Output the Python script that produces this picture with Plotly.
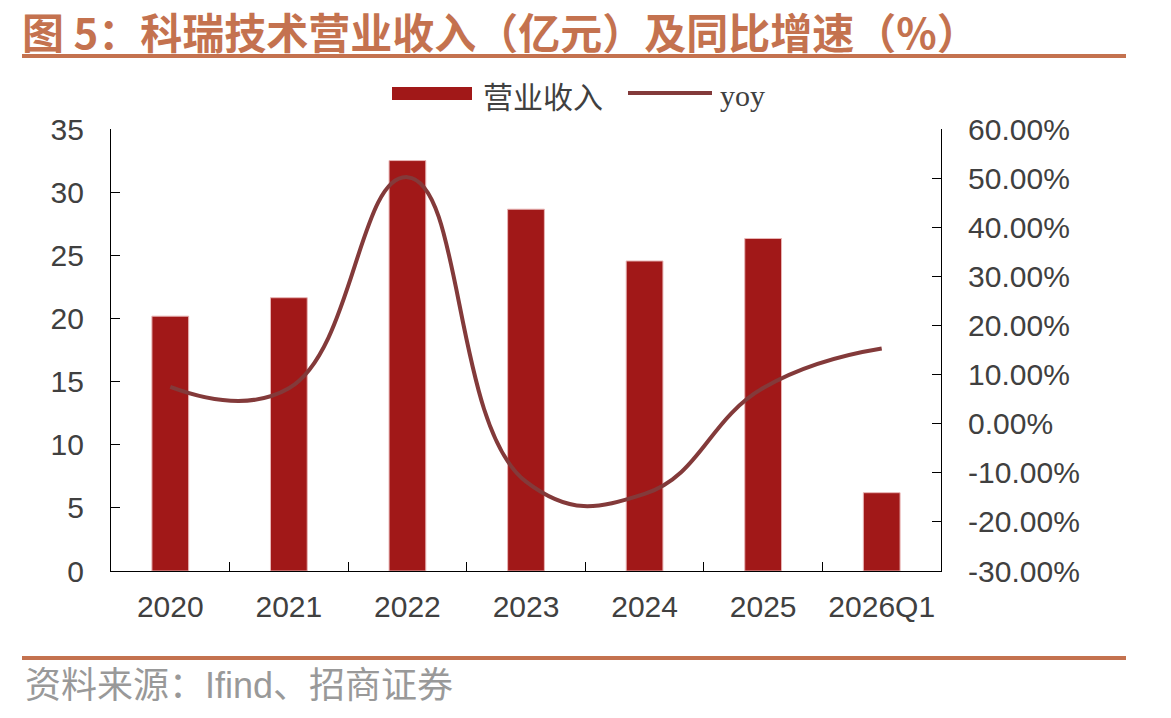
import plotly.graph_objects as go

# ---------------- data ----------------
categories = ["2020", "2021", "2022", "2023", "2024", "2025", "2026Q1"]
revenue = [20.18, 21.64, 32.5, 28.65, 24.55, 26.33, 6.2]          # 营业收入（亿元）
yoy = [0.075, 0.072, 0.502, -0.118, -0.143, 0.0725, 0.153]        # 同比增速

y1_ticks = [0, 5, 10, 15, 20, 25, 30, 35]
y2_ticks = [-0.3, -0.2, -0.1, 0.0, 0.1, 0.2, 0.3, 0.4, 0.5, 0.6]
y2_ticktext = ["-30.00%", "-20.00%", "-10.00%", "0.00%", "10.00%",
               "20.00%", "30.00%", "40.00%", "50.00%", "60.00%"]

title_text = "图 5：科瑞技术营业收入（亿元）及同比增速（%）"
source_text = "资料来源：Ifind、招商证券"

# ---------------- layout constants ----------------
W, H = 1171, 718
L, R, T, B = 111, 941, 129, 571
BAR_COLOR = "#A11818"
LINE_COLOR = "#833A3A"
ACCENT = "#C4724F"
TICK_FONT = dict(family="Liberation Sans, Arial, sans-serif", size=30, color="#404040")


def px(x):
    return (x - L) / (R - L)


def py(y):
    return (B - y) / (B - T)


fig = go.Figure()
fig.add_trace(go.Bar(
    x=categories, y=revenue, name="营业收入",
    marker=dict(color=BAR_COLOR, line=dict(color="#E8B5B5", width=1)),
    width=0.31, yaxis="y",
))
fig.add_trace(go.Scatter(
    x=categories, y=yoy, name="yoy", mode="lines",
    line=dict(color=LINE_COLOR, width=4, shape="spline", smoothing=1.3),
    yaxis="y2",
))

shapes = [
    # title underline
    dict(type="line", xref="paper", yref="paper", x0=px(22), x1=px(1126),
         y0=py(56), y1=py(56), line=dict(color=ACCENT, width=4)),
    # footer line
    dict(type="line", xref="paper", yref="paper", x0=px(22), x1=px(1126),
         y0=py(658), y1=py(658), line=dict(color=ACCENT, width=4)),
    # legend swatches
    dict(type="rect", xref="paper", yref="paper", x0=px(392), x1=px(472),
         y0=py(100), y1=py(87), fillcolor=BAR_COLOR, line=dict(width=0)),
    dict(type="line", xref="paper", yref="paper", x0=px(628), x1=px(712),
         y0=py(93), y1=py(93), line=dict(color=LINE_COLOR, width=4)),
]

annotations = [
    dict(text="<b>" + title_text + "</b>", xref="paper", yref="paper",
         x=px(20), y=py(31), xanchor="left", yanchor="middle", showarrow=False,
         font=dict(family="Noto Sans CJK SC", size=42, color=ACCENT)),
    dict(text=source_text, xref="paper", yref="paper",
         x=px(23), y=py(685), xanchor="left", yanchor="middle", showarrow=False,
         font=dict(family="Liberation Sans, Noto Sans CJK SC", size=36, color="#999999")),
    dict(text="营业收入", xref="paper", yref="paper",
         x=px(481), y=py(95), xanchor="left", yanchor="middle", showarrow=False,
         font=dict(family="Noto Sans CJK SC", size=30, color="#404040")),
    dict(text="yoy", xref="paper", yref="paper",
         x=px(718), y=py(95), xanchor="left", yanchor="middle", showarrow=False,
         font=dict(family="Liberation Serif, serif", size=30, color="#404040")),
]

fig.update_layout(
    width=W, height=H,
    margin=dict(l=L, r=W - R, t=T, b=H - B, pad=0),
    paper_bgcolor="white", plot_bgcolor="white",
    showlegend=False,
    shapes=shapes, annotations=annotations,
    xaxis=dict(
        type="category", showline=True, linecolor="black", linewidth=1.2,
        ticks="inside", tickson="boundaries", ticklen=9, tickcolor="black",
        showgrid=False, tickfont=TICK_FONT, ticklabelstandoff=9,
    ),
    yaxis=dict(
        range=[0, 35], tickvals=y1_ticks, showline=True, linecolor="black",
        linewidth=1.2, ticks="inside", ticklen=9, tickcolor="black",
        showgrid=False, zeroline=False, tickfont=TICK_FONT, ticklabelstandoff=20,
    ),
    yaxis2=dict(
        range=[-0.3, 0.6], tickvals=y2_ticks, ticktext=y2_ticktext,
        overlaying="y", side="right", showline=True, linecolor="black",
        linewidth=1.2, ticks="inside", ticklen=9, tickcolor="black",
        showgrid=False, zeroline=False, tickfont=TICK_FONT, ticklabelstandoff=20,
    ),
)

fig.write_html("out.html")
